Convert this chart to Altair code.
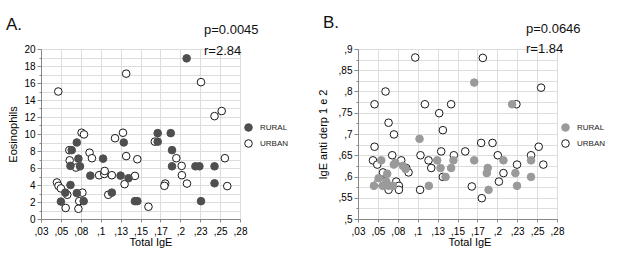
import altair as alt
import pandas as pd
import json

FONT = "Liberation Sans Narrow, Liberation Sans, Arial, sans-serif"
TFONT = "Liberation Sans, Arial, sans-serif"

# ---- shared x axis (Total IgE) ----
x_tick_values = [0.025, 0.05, 0.075, 0.1, 0.125, 0.15, 0.175, 0.2, 0.225, 0.25, 0.275]
x_tick_labels = [",03", ",05", ",08", ",1", ",13", ",15", ",17", ",2", ",23", ",25", ",28"]

# ---- panel A: Eosinophils ----
a_rural_x = [0.050, 0.0555, 0.062, 0.0636, 0.070, 0.072, 0.062, 0.074, 0.070, 0.0786,
             0.087, 0.103, 0.114, 0.125, 0.129, 0.135, 0.143, 0.146, 0.1716, 0.1716,
             0.188, 0.1896, 0.1896, 0.219, 0.224, 0.226, 0.243, 0.243, 0.208]
a_rural_y = [2.05, 3.1, 4.0, 8.1, 9.0, 7.1, 6.25, 6.2, 3.05, 2.1,
             5.1, 7.1, 3.1, 5.1, 9.0, 4.8, 2.1, 2.1, 10.1, 9.1,
             10.1, 8.1, 6.2, 6.2, 6.2, 2.1, 6.2, 4.2, 18.9]
a_urban_x = [0.045, 0.047, 0.050, 0.058, 0.056, 0.0606, 0.061, 0.069, 0.073, 0.072,
             0.077, 0.076, 0.079, 0.086, 0.089, 0.098, 0.1045, 0.105, 0.1095, 0.114,
             0.118, 0.128, 0.132, 0.130, 0.143, 0.146, 0.160, 0.168, 0.195, 0.2017,
             0.202, 0.2084, 0.181, 0.180, 0.256, 0.259, 0.226, 0.243, 0.252, 0.0467, 0.132]
a_urban_y = [4.3, 3.9, 3.6, 2.85, 1.3, 8.1, 6.9, 6.05, 2.1, 1.2,
             3.1, 10.15, 9.95, 7.8, 7.15, 5.15, 5.3, 5.65, 2.85, 5.15,
             9.5, 10.15, 7.4, 4.1, 5.07, 7.03, 1.44, 9.1, 7.15, 6.25,
             5.15, 4.17, 4.17, 3.9, 7.15, 3.87, 16.1, 12.1, 12.7, 15.0, 17.1]

# ---- panel B: IgE anti derp 1 e 2 ----
b_rural_x = [0.0542, 0.045, 0.0509, 0.0617, 0.0605, 0.056, 0.0634, 0.0689, 0.070, 0.072,
             0.0815, 0.0848, 0.1023, 0.114, 0.1245, 0.1287, 0.135, 0.142, 0.1449, 0.171,
             0.188, 0.1868, 0.189, 0.2077, 0.2227, 0.2248, 0.2424, 0.2424, 0.171, 0.2186]
b_rural_y = [0.638, 0.578, 0.596, 0.6065, 0.588, 0.578, 0.578, 0.578, 0.628, 0.632,
             0.625, 0.6176, 0.6886, 0.578, 0.638, 0.62, 0.599, 0.62, 0.638, 0.638,
             0.62, 0.608, 0.5686, 0.638, 0.608, 0.578, 0.638, 0.599, 0.821, 0.77]
b_urban_x = [0.0969, 0.0596, 0.0458, 0.0634, 0.109, 0.127, 0.142, 0.1316, 0.0702, 0.0458,
             0.0438, 0.0492, 0.0564, 0.0509, 0.058, 0.0634, 0.068, 0.073, 0.0764, 0.0764,
             0.0793, 0.0856, 0.0885, 0.103, 0.1035, 0.1136, 0.117, 0.1295, 0.1316, 0.1454,
             0.1597, 0.1797, 0.194, 0.168, 0.1805, 0.2006, 0.2077, 0.202, 0.2248, 0.2424,
             0.252, 0.2578, 0.1818, 0.224, 0.255]
b_urban_y = [0.88, 0.80, 0.77, 0.7265, 0.77, 0.749, 0.77, 0.709, 0.699, 0.67,
             0.638, 0.628, 0.6096, 0.588, 0.588, 0.5686, 0.65, 0.588, 0.578, 0.5686,
             0.638, 0.62, 0.6096, 0.5686, 0.65, 0.638, 0.62, 0.659, 0.599, 0.65,
             0.659, 0.679, 0.679, 0.5765, 0.549, 0.65, 0.608, 0.588, 0.628, 0.65,
             0.67, 0.628, 0.879, 0.77, 0.809]

a_y_values = list(range(0, 21))
b_y_values = [round(0.5 + 0.025 * i, 3) for i in range(17)]
b_y_labels = [",5", ",55", ",6", ",65", ",7", ",75", ",8", ",85", ",9"]

groups = ["RURAL", "URBAN"]
panel_letters = ["A.", "B."]
p_texts = ["p=0.0045", "p=0.0646"]
r_texts = ["r=2.84", "r=1.84"]
y_titles = ["Eosinophils", "IgE  anti  derp 1 e 2"]

W, H = 199, 170


def make_df(rx, ry, ux, uy):
    urban = pd.DataFrame({"x": ux, "y": uy, "Group": "URBAN"})
    rural = pd.DataFrame({"x": rx, "y": ry, "Group": "RURAL"})
    return pd.concat([urban, rural], ignore_index=True)


x_label_expr = json.dumps(x_tick_labels) + "[round(datum.value*40)-1]"


def x_axis(tx):
    return alt.Axis(values=x_tick_values, labelExpr=x_label_expr, tickSize=3,
                    labelPadding=4, titlePadding=0, labelOverlap=False, labelFlush=False,
                    titleFontWeight="normal", titleX=tx)


def legend(leg_y):
    return alt.Legend(title=None, orient="none", legendX=W + 4, legendY=leg_y,
                      symbolSize=58, symbolStrokeWidth=1, labelFont=FONT,
                      labelFontSize=8, rowPadding=3, labelOffset=7,
                      symbolType="circle", labelColor="#222")


def panel(i, df, y_dom, y_axis, rural_color, letter_y, txt_x, p_y, r_y, leg_y, tx):
    pts = alt.Chart(df).mark_point(filled=True, shape="circle", size=58, strokeWidth=1, opacity=1).encode(
        x=alt.X("x:Q", scale=alt.Scale(domain=[0.025, 0.275], nice=False, zero=False),
                axis=x_axis(tx), title="Total IgE"),
        y=alt.Y("y:Q", scale=alt.Scale(domain=y_dom, nice=False, zero=False),
                axis=y_axis, title=y_titles[i]),
        fill=alt.Fill("Group:N", scale=alt.Scale(domain=groups, range=[rural_color, "#ffffff"]),
                      legend=legend(leg_y)),
        stroke=alt.Stroke("Group:N", scale=alt.Scale(domain=groups, range=[rural_color, "#1a1a1a"]),
                          legend=legend(leg_y)),
    )
    ann = pd.DataFrame({"letter": [panel_letters[i]], "p": [p_texts[i]], "r": [r_texts[i]]})
    letter = alt.Chart(ann).mark_text(align="left", baseline="middle", fontSize=17, font=TFONT,
                                      color="#111").encode(
        text="letter:N", x=alt.value(-35), y=alt.value(letter_y))
    ptxt = alt.Chart(ann).mark_text(align="left", baseline="middle", fontSize=13, font=TFONT,
                                    color="#111").encode(
        text="p:N", x=alt.value(txt_x), y=alt.value(p_y))
    rtxt = alt.Chart(ann).mark_text(align="left", baseline="middle", fontSize=13, font=TFONT,
                                    color="#111").encode(
        text="r:N", x=alt.value(txt_x), y=alt.value(r_y))
    return alt.layer(pts, letter, ptxt, rtxt).properties(width=W, height=H)


a_axis = alt.Axis(values=a_y_values,
                  labelExpr="datum.value % 2 === 0 ? format(datum.value, 'd') : ''",
                  tickSize={"condition": {"test": "datum.value % 2 === 0", "value": 4}, "value": 2},
                  labelPadding=2, titlePadding=5, labelOverlap=False, labelFlush=False,
                  titleFontWeight="normal")
b_axis = alt.Axis(values=b_y_values,
                  labelExpr="round(datum.value*40) % 2 === 0 ? " + json.dumps(b_y_labels)
                            + "[round((datum.value-0.5)*20)] : ''",
                  tickSize={"condition": {"test": "round(datum.value*40) % 2 === 0", "value": 4}, "value": 2},
                  labelPadding=2, titlePadding=10, labelOverlap=False, labelFlush=False,
                  titleFontWeight="normal")

pa = panel(0, make_df(a_rural_x, a_rural_y, a_urban_x, a_urban_y), [0, 20], a_axis,
           "#4f4f4f", -23.7, 163, -19.5, 1.5, 74, W / 2 + 10)
pb = panel(1, make_df(b_rural_x, b_rural_y, b_urban_x, b_urban_y), [0.5, 0.9], b_axis,
           "#9a9a9a", -25.7, 168, -20.5, 0, 74, W / 2 + 12)

chart = alt.hconcat(pa, pb, spacing=26).resolve_scale(fill="independent", stroke="independent").configure_view(
    stroke=None
).configure_axis(
    grid=False, domainColor="#000", tickColor="#000", labelColor="#222", titleColor="#222",
    labelFont=FONT, titleFont=FONT, labelFontSize=7.5, titleFontSize=8, titleFontWeight="normal",
    domainWidth=1, tickWidth=1
).configure(padding={"top": 13, "left": 5, "right": 5, "bottom": 5}, background="white")

chart.save("out.html", embed_options={"renderer": "svg", "actions": False})
